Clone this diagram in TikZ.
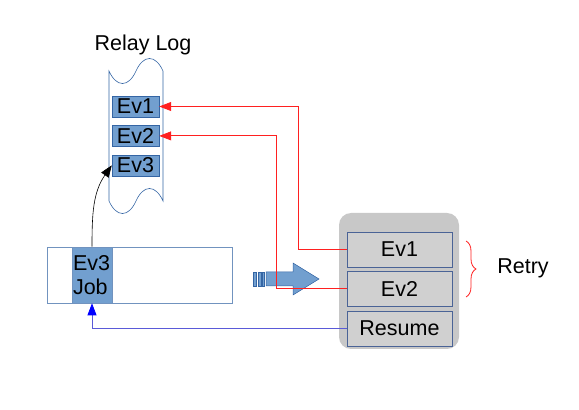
\documentclass[tikz,border=0pt]{standalone}
\usepackage{fontspec}
\setmainfont{Liberation Sans}
\usepackage{tikz}
\usepackage{xcolor}
\usetikzlibrary{positioning,shapes.symbols,arrows.meta,decorations.pathreplacing}
\definecolor{evfill}{HTML}{729FCF}
\definecolor{evedge}{HTML}{3465A4}
\definecolor{paneledge}{HTML}{C8C8C8}
\definecolor{cellfill}{HTML}{D0D0D0}
\definecolor{celledge}{HTML}{4A6396}
\definecolor{retryred}{HTML}{FF2020}
\definecolor{resumeblue}{HTML}{5A5AD8}
\begin{document}
\begin{tikzpicture}[x=1pt,y=1pt,
every node/.style={font=\fontsize{21.5}{24}\selectfont},
logbox/.style={draw=evedge,fill=evfill,rectangle,minimum width=47pt,minimum height=21pt,inner sep=0pt},
cellbox/.style={draw=celledge,fill=cellfill,rectangle,minimum width=105pt,minimum height=35pt,inner sep=0pt},
redarrow/.style={draw=retryred,line width=0.8pt,-{Triangle[length=12pt,width=9pt,fill=retryred]}},
bluearrow/.style={draw=resumeblue,line width=0.8pt,-{Triangle[length=12pt,width=9pt,fill=blue,color=blue]}}]
\useasboundingbox (0,0) rectangle (579,410);

\node (relaylog) [tape,draw=evedge,line width=0.6pt,minimum width=54pt,minimum height=155pt,
    tape bend height=25pt] at (136,274) {};
\node (relaytitle) at (143,365) {Relay Log};
\node (lev1) [logbox] at (135.5,303.5) {Ev1};
\node (lev2) [logbox,below=8pt of lev1] {Ev2};
\node (lev3) [logbox,below=8pt of lev2] {Ev3};

\node (stream) [draw=evedge!70,line width=0.6pt,rectangle,minimum width=185pt,minimum height=56pt,inner sep=0pt] at (139.5,135) {};
\node (job) [fill=evfill,draw=evedge!70,line width=0.6pt,rectangle,minimum width=40pt,minimum height=56pt,inner sep=1pt,
    text width=38pt,align=left] at (92,135) {Ev3\\Job};

\fill[evfill,draw=evedge,line width=0.5pt] (253,124) rectangle (256,138);
\fill[evfill,draw=evedge,line width=0.5pt] (258.5,124) rectangle (261.5,138);
\fill[evfill,draw=evedge,line width=0.5pt] (262.7,124) rectangle (264.7,138);
\fill[evfill,draw=evedge,line width=0.5pt] (266,124) -- (293,124) -- (293,115) -- (319,131)
    -- (293,147) -- (293,138) -- (266,138) -- cycle;

\node (retrypanel) [fill=paneledge,rounded corners=12pt,minimum width=120pt,minimum height=136pt] at (399,129) {};
\node (rev1) [cellbox] at (399.5,160.5) {Ev1};
\node (rev2) [cellbox,below=4pt of rev1] {Ev2};
\node (resume) [cellbox,below=4pt of rev2] {Resume};

\draw[retryred,line width=0.8pt,decorate,decoration={brace,amplitude=10pt,aspect=0.5}] (466,169) -- (466,113);
\node (retry) at (523,142) {Retry};

\draw[redarrow] (rev1.west) -- ++(-48,0) |- (lev1.east);
\draw[redarrow] (rev2.west) -- ++(-70,0) |- (lev2.east);
\draw[bluearrow] (resume.west) -| (job.south);
\draw[line width=0.6pt,-{Triangle[length=12pt,width=9pt]}] (job.north) to[out=90,in=235] (lev3.west);
\end{tikzpicture}
\end{document}
